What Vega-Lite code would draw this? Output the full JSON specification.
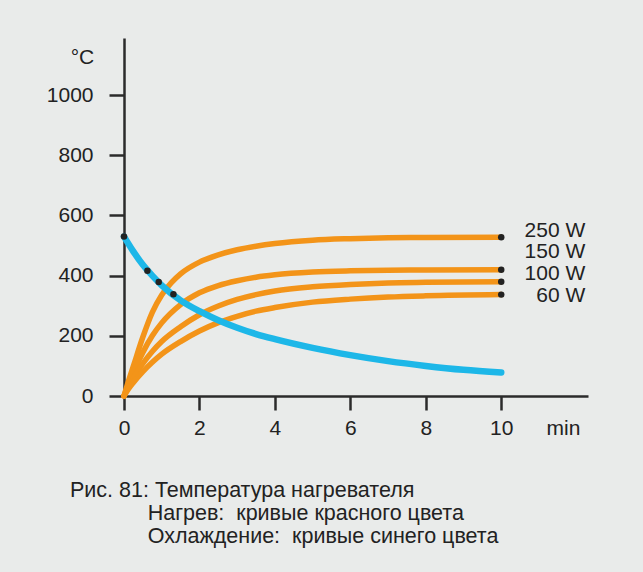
{
  "$schema": "https://vega.github.io/schema/vega-lite/v6.json",
  "autosize": {"type": "none"},
  "width": 464,
  "height": 358,
  "padding": {"left": 124, "top": 38, "right": 55, "bottom": 176},
  "background": "#e9ebea",
  "config": {
    "view": {"stroke": null},
    "font": "Liberation Sans",
    "axis": {
      "grid": false,
      "domainColor": "#2b2b2b",
      "domainWidth": 2.5,
      "tickColor": "#2b2b2b",
      "tickWidth": 2.5,
      "labelFont": "Liberation Sans",
      "labelFontSize": 21,
      "labelColor": "#222222",
      "labelOverlap": false,
      "labelFlush": false,
      "titleFont": "Liberation Sans",
      "titleFontSize": 21,
      "titleFontWeight": "normal",
      "titleColor": "#222222",
      "titleAngle": 0,
      "titleAlign": "center",
      "titleBaseline": "alphabetic"
    },
    "axisX": {"tickSize": 14, "labelPadding": 7, "titleX": 439, "titleY": 38},
    "axisY": {"tickSize": 15, "labelPadding": 16, "titleX": -42, "titleY": 25}
  },
  "title": {
    "text": [
      "Рис. 81: Температура нагревателя",
      "\u200b\u00a0\u00a0\u00a0\u00a0\u00a0\u00a0\u00a0\u00a0\u00a0\u00a0\u00a0\u00a0\u00a0Нагрев:\u00a0 кривые красного цвета",
      "\u200b\u00a0\u00a0\u00a0\u00a0\u00a0\u00a0\u00a0\u00a0\u00a0\u00a0\u00a0\u00a0\u00a0Охлаждение:\u00a0 кривые синего цвета"
    ],
    "orient": "bottom",
    "anchor": "start",
    "frame": "group",
    "dx": -54,
    "offset": 42,
    "font": "Liberation Sans",
    "fontSize": 21.5,
    "fontWeight": "normal",
    "color": "#222222",
    "lineHeight": 23,
    "baseline": "top"
  },
  "datasets": {
    "curves": [
      {"series": "Охлаждение", "t": 0, "T": 530},
      {"series": "Охлаждение", "t": 0.25, "T": 480},
      {"series": "Охлаждение", "t": 0.5, "T": 436},
      {"series": "Охлаждение", "t": 0.75, "T": 400},
      {"series": "Охлаждение", "t": 1, "T": 368},
      {"series": "Охлаждение", "t": 1.5, "T": 318},
      {"series": "Охлаждение", "t": 2, "T": 282},
      {"series": "Охлаждение", "t": 2.5, "T": 252},
      {"series": "Охлаждение", "t": 3, "T": 227},
      {"series": "Охлаждение", "t": 3.5, "T": 206},
      {"series": "Охлаждение", "t": 4, "T": 189},
      {"series": "Охлаждение", "t": 5, "T": 160},
      {"series": "Охлаждение", "t": 6, "T": 136},
      {"series": "Охлаждение", "t": 7, "T": 116},
      {"series": "Охлаждение", "t": 8, "T": 100},
      {"series": "Охлаждение", "t": 9, "T": 87},
      {"series": "Охлаждение", "t": 10, "T": 78},
      {"series": "250 W", "t": 0, "T": 0},
      {"series": "250 W", "t": 0.1, "T": 42},
      {"series": "250 W", "t": 0.25, "T": 100},
      {"series": "250 W", "t": 0.5, "T": 196},
      {"series": "250 W", "t": 0.75, "T": 278},
      {"series": "250 W", "t": 1, "T": 336},
      {"series": "250 W", "t": 1.25, "T": 376},
      {"series": "250 W", "t": 1.5, "T": 406},
      {"series": "250 W", "t": 2, "T": 445},
      {"series": "250 W", "t": 2.5, "T": 469},
      {"series": "250 W", "t": 3, "T": 486},
      {"series": "250 W", "t": 3.5, "T": 498},
      {"series": "250 W", "t": 4, "T": 507},
      {"series": "250 W", "t": 5, "T": 518},
      {"series": "250 W", "t": 6, "T": 523},
      {"series": "250 W", "t": 7, "T": 526},
      {"series": "250 W", "t": 8, "T": 527},
      {"series": "250 W", "t": 10, "T": 528},
      {"series": "150 W", "t": 0, "T": 0},
      {"series": "150 W", "t": 0.1, "T": 33},
      {"series": "150 W", "t": 0.25, "T": 78},
      {"series": "150 W", "t": 0.5, "T": 145},
      {"series": "150 W", "t": 0.75, "T": 200},
      {"series": "150 W", "t": 1, "T": 243},
      {"series": "150 W", "t": 1.5, "T": 304},
      {"series": "150 W", "t": 2, "T": 343},
      {"series": "150 W", "t": 2.5, "T": 367},
      {"series": "150 W", "t": 3, "T": 383},
      {"series": "150 W", "t": 3.5, "T": 395},
      {"series": "150 W", "t": 4, "T": 403},
      {"series": "150 W", "t": 5, "T": 412},
      {"series": "150 W", "t": 6, "T": 416},
      {"series": "150 W", "t": 7, "T": 418},
      {"series": "150 W", "t": 8, "T": 419},
      {"series": "150 W", "t": 10, "T": 420},
      {"series": "100 W", "t": 0, "T": 0},
      {"series": "100 W", "t": 0.1, "T": 26},
      {"series": "100 W", "t": 0.25, "T": 60},
      {"series": "100 W", "t": 0.5, "T": 108},
      {"series": "100 W", "t": 0.75, "T": 148},
      {"series": "100 W", "t": 1, "T": 181},
      {"series": "100 W", "t": 1.5, "T": 230},
      {"series": "100 W", "t": 2, "T": 270},
      {"series": "100 W", "t": 2.5, "T": 299},
      {"series": "100 W", "t": 3, "T": 321},
      {"series": "100 W", "t": 3.5, "T": 337},
      {"series": "100 W", "t": 4, "T": 349},
      {"series": "100 W", "t": 5, "T": 363},
      {"series": "100 W", "t": 6, "T": 371},
      {"series": "100 W", "t": 7, "T": 376},
      {"series": "100 W", "t": 8, "T": 378},
      {"series": "100 W", "t": 10, "T": 380},
      {"series": "60 W", "t": 0, "T": 0},
      {"series": "60 W", "t": 0.1, "T": 20},
      {"series": "60 W", "t": 0.25, "T": 45},
      {"series": "60 W", "t": 0.5, "T": 81},
      {"series": "60 W", "t": 0.75, "T": 112},
      {"series": "60 W", "t": 1, "T": 139},
      {"series": "60 W", "t": 1.5, "T": 181},
      {"series": "60 W", "t": 2, "T": 216},
      {"series": "60 W", "t": 2.5, "T": 244},
      {"series": "60 W", "t": 3, "T": 265},
      {"series": "60 W", "t": 3.5, "T": 282},
      {"series": "60 W", "t": 4, "T": 294},
      {"series": "60 W", "t": 5, "T": 312},
      {"series": "60 W", "t": 6, "T": 322},
      {"series": "60 W", "t": 7, "T": 329},
      {"series": "60 W", "t": 8, "T": 333},
      {"series": "60 W", "t": 10, "T": 337}
    ],
    "dots": [
      {"t": 0, "T": 530},
      {"t": 0.62, "T": 416},
      {"t": 0.92, "T": 379},
      {"t": 1.31, "T": 338},
      {"t": 10, "T": 528},
      {"t": 10, "T": 420},
      {"t": 10, "T": 380},
      {"t": 10, "T": 337}
    ],
    "labels": [
      {"label": "250 W", "t": 10, "T": 550},
      {"label": "150 W", "t": 10, "T": 477},
      {"label": "100 W", "t": 10, "T": 405},
      {"label": "60 W", "t": 10, "T": 334}
    ]
  },
  "encoding": {
    "x": {
      "field": "t",
      "type": "quantitative",
      "scale": {"domain": [0, 12.3], "nice": false, "zero": false},
      "axis": {"values": [0, 2, 4, 6, 8, 10], "title": "min", "format": "d"}
    },
    "y": {
      "field": "T",
      "type": "quantitative",
      "scale": {"domain": [0, 1190], "nice": false, "zero": false},
      "axis": {"values": [0, 200, 400, 600, 800, 1000], "title": "°C", "format": "d"}
    }
  },
  "layer": [
    {
      "data": {"name": "curves"},
      "transform": [{"filter": "datum.series !== 'Охлаждение'"}],
      "mark": {"type": "line", "color": "#f39419", "strokeWidth": 5.5, "interpolate": "monotone", "strokeCap": "round"},
      "encoding": {"detail": {"field": "series"}}
    },
    {
      "data": {"name": "curves"},
      "transform": [{"filter": "datum.series === 'Охлаждение'"}],
      "mark": {"type": "line", "color": "#1db7e8", "strokeWidth": 6.5, "interpolate": "monotone", "strokeCap": "round"},
      "encoding": {}
    },
    {
      "data": {"name": "dots"},
      "mark": {"type": "point", "filled": true, "color": "#222222", "opacity": 1, "size": 42}
    },
    {
      "data": {"name": "labels"},
      "mark": {"type": "text", "align": "right", "baseline": "middle", "dx": 84, "fontSize": 21, "font": "Liberation Sans", "color": "#222222"},
      "encoding": {"text": {"field": "label"}}
    },
    {
      "data": {"values": [{}]},
      "mark": {"type": "point", "shape": "M 0 0 L -2 -0.65 L -2 0.65 Z", "filled": true, "color": "#2b2b2b", "opacity": 1, "size": 196, "clip": false},
      "encoding": {"x": {"datum": 12.3, "type": "quantitative"}, "y": {"datum": 0, "type": "quantitative"}}
    },
    {
      "data": {"values": [{}]},
      "mark": {"type": "point", "shape": "M 0 0 L -0.65 2 L 0.65 2 Z", "filled": true, "color": "#2b2b2b", "opacity": 1, "size": 196, "clip": false},
      "encoding": {"x": {"datum": 0, "type": "quantitative"}, "y": {"datum": 1190, "type": "quantitative"}}
    },
    {
      "data": {"values": [{"frame": 1}]},
      "mark": {"type": "point", "shape": "M 700 -32 L -120 -32 L -120 700", "filled": false, "color": "#4a4a4a", "strokeWidth": 1.5, "opacity": 1, "size": 4, "clip": false},
      "encoding": {"x": {"datum": 0, "type": "quantitative"}, "y": {"datum": 1190, "type": "quantitative"}}
    }
  ]
}
